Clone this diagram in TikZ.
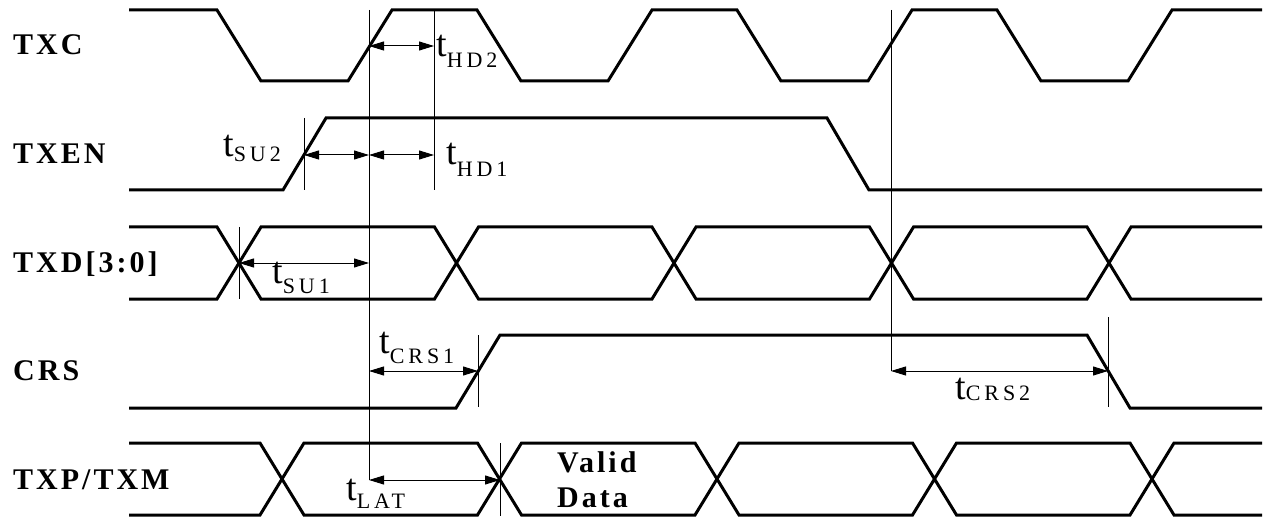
\documentclass[tikz,border=0pt]{standalone}
\usepackage{fontspec}
\setmainfont{Liberation Serif}
\newfontfamily\namefont[LetterSpace=10]{Liberation Serif}
\newfontfamily\subfont[LetterSpace=18]{Liberation Serif}
\usetikzlibrary{arrows.meta}
\newcommand{\tlab}[2][10]{{\fontsize{38}{40}\selectfont t}\raisebox{-#1pt}{\fontsize{22}{24}\subfont #2}}

\begin{document}
\begin{tikzpicture}[x=1pt,y=-1pt,
        sig/.style={line width=3pt},
        marker/.style={line width=1pt},
        dim/.style={line width=1pt, {Triangle[length=15pt,width=9pt]}-{Triangle[length=15pt,width=9pt]}},
        signame/.style={anchor=base west, inner sep=0pt, font=\fontsize{30}{32}\namefont\bfseries},
        tname/.style={anchor=base west, inner sep=0pt}]
\useasboundingbox (0,0) rectangle (1265,521);

% Signal names
\node[signame] (txc) at (13,55) {TXC};
\node[signame] (txen) at (13,164) {TXEN};
\node[signame] (txd) at (13,272) {TXD[3:0]};
\node[signame] (crs) at (13,380) {CRS};
\node[signame] (txp) at (13,489) {TXP/TXM};

% TXC, period 260
\draw[sig] (129,10) \foreach \k in {0,...,3}{ -- ({217+260*\k},10) -- ({261+260*\k},81) -- ({348+260*\k},81) -- ({392+260*\k},10)} -- (1262,10);

% TXEN
\draw[sig] (129,190) -- (283,190) -- (326,118) -- (827,118) -- (869,190) -- (1262,190);

% TXD[3:0] and TXP/TXM busses, a crossing every 217.5
\foreach \s/\yh/\yl in {217/227/299, 260/443/515}{
    \draw[sig] (129,\yh) \foreach \k in {0,...,4}{ -- ({\s+217.5*\k},\yh) -- ({\s+22+217.5*\k},{(\yh+\yl)/2}) -- ({\s+44+217.5*\k},\yh)} -- (1262,\yh);  % upper edge
    \draw[sig] (129,\yl) \foreach \k in {0,...,4}{ -- ({\s+217.5*\k},\yl) -- ({\s+22+217.5*\k},{(\yh+\yl)/2}) -- ({\s+44+217.5*\k},\yl)} -- (1262,\yl);  % lower edge
}

% CRS
\draw[sig] (129,408) -- (456,408) -- (500,335) -- (1087,335) -- (1130,408) -- (1262,408);

% Arrow ends
\coordinate (txcR) at (369,46);
\coordinate (txcH) at (434,46);
\coordinate (txenR) at (304,155);
\coordinate (txenM) at (369,155);
\coordinate (txenH) at (434,155);
\coordinate (txdX) at (239,263);
\coordinate (txdM) at (369,263);
\coordinate (crsM) at (369,371);
\coordinate (crsR) at (478,371);
\coordinate (txcR2) at (891,371);
\coordinate (crsF) at (1108,371);
\coordinate (txpM) at (369,480);
\coordinate (txpX) at (500,480);

% Marker lines
\draw[marker] (369,10) -- (txpM);
\draw[marker] (434,10) -- (434,190);
\draw[marker] (304,118) -- (304,190);
\draw[marker] (239,227) -- (239,299);
\draw[marker] (891,10) -- (txcR2);
\draw[marker] (1108,317) -- (1108,407);
\draw[marker] (478,335) -- (478,407);
\draw[marker] (500,443) -- (500,516);

% Timing arrows
\draw[dim] (txcR) -- (txcH);
\draw[dim] (txenR) -- (txenM);
\draw[dim] (txenM) -- (txenH);
\draw[dim] (txdX) -- (txdM);
\draw[dim] (crsM) -- (crsR);
\draw[dim] (txcR2) -- (crsF);
\draw[dim] (txpM) -- (txpX);

% Timing labels
\node[tname] (lhd2) at (436,57) {\tlab[11]{HD2}};
\node[tname] (lsu2) at (223,157) {\tlab[5]{SU2}};
\node[tname] (lhd1) at (446,165) {\tlab[12]{HD1}};
\node[tname] (lsu1) at (272,283) {\tlab{SU1}};
\node[tname] (lcrs1) at (379,353) {\tlab{CRS1}};
\node[tname] (lcrs2) at (955,399) {\tlab[1]{CRS2}};
\node[tname] (llat) at (346,500) {\tlab[8]{LAT}};

% Bus content
\node[signame] (valid) at (557,472) {Valid};
\node[signame] (data) at (557,507) {Data};
\end{tikzpicture}
\end{document}
